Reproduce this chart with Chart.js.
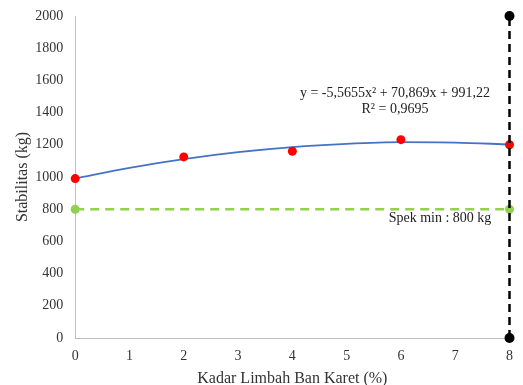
<!DOCTYPE html>
<html>
<head>
<meta charset="utf-8">
<script src="https://cdn.jsdelivr.net/npm/chart.js@4"></script>
<style>
  html, body { margin: 0; padding: 0; background: #fff; }
  #wrap { width: 523px; height: 385px; }
</style>
</head>
<body>
<div id="wrap"><canvas id="canvas"></canvas></div>
<script>
// data
var kadar = [0, 2, 4, 6, 8];
var stabilitas = [990, 1125, 1160, 1232, 1200];
// trend curve as drawn (read at each integer x)
var trendX = [0, 1, 2, 3, 4, 5, 6, 7, 8];
var trendY = [991, 1057, 1111, 1154, 1186, 1206, 1216, 1214, 1202];
var spekX = [0, 8];
var spekY = [800, 800];
var batasX = [8, 8];
var batasY = [0, 2000];
var yTicks = [0, 200, 400, 600, 800, 1000, 1200, 1400, 1600, 1800, 2000];

function pts(xs, ys) {
    return xs.map(function (x, i) { return { x: x, y: ys[i] }; });
}

// text labels on the chart
var labelPlugin = {
    id: 'labels',
    afterDatasetsDraw: function (chart) {
        var ctx = chart.ctx;
        var xs = chart.scales.x, ys = chart.scales.y;
        ctx.save();
        ctx.fillStyle = '#222';
        ctx.font = '14px "Liberation Serif"';
        ctx.textAlign = 'center';
        ctx.textBaseline = 'middle';
        var cx = xs.getPixelForValue(5.89);
        ctx.fillText('y = -5,5655x\u00b2 + 70,869x + 991,22', cx, ys.getPixelForValue(1520));
        ctx.fillText('R\u00b2 = 0,9695', cx, ys.getPixelForValue(1420));
        ctx.fillText('Spek min : 800 kg', xs.getPixelForValue(6.72), ys.getPixelForValue(741));
        ctx.restore();
    }
};

var tickFont = { family: '"Liberation Serif"', size: 14 };
var titleFont = { family: '"Liberation Serif"', size: 16 };

var ctx = document.getElementById('canvas');
var myChart = new Chart(ctx, {
    type: 'scatter',
    data: {
        datasets: [{
            label: 'Batas',
            data: pts(batasX, batasY),
            showLine: true,
            borderColor: '#000',
            borderWidth: 2.5,
            borderDash: [8, 5],
            pointRadius: 5,
            pointBackgroundColor: '#000',
            pointBorderWidth: 0,
            clip: false
        }, {
            label: 'Stabilitas',
            data: pts(kadar, stabilitas),
            showLine: false,
            pointRadius: 4.5,
            pointBackgroundColor: '#ff0000',
            pointBorderWidth: 0,
            clip: false
        }, {
            label: 'Trend',
            data: pts(trendX, trendY),
            showLine: true,
            cubicInterpolationMode: 'monotone',
            borderColor: '#4472c4',
            borderWidth: 1.8,
            pointRadius: 0,
            clip: false
        }, {
            label: 'Spek min',
            data: pts(spekX, spekY),
            showLine: true,
            borderColor: '#92d050',
            borderWidth: 2.5,
            borderDash: [9, 6],
            pointRadius: 4.5,
            pointBackgroundColor: '#92d050',
            pointBorderWidth: 0,
            clip: false
        }]
    },
    options: {
        responsive: true,
        maintainAspectRatio: false,
        animation: false,
        layout: { padding: { top: 0, right: 8, left: 7, bottom: -3 } },
        plugins: {
            legend: { display: false },
            tooltip: { enabled: false }
        },
        scales: {
            x: {
                type: 'linear',
                min: 0,
                max: 8,
                grid: { display: false, drawTicks: false },
                border: { color: '#bfbfbf', width: 1 },
                ticks: {
                    stepSize: 1,
                    padding: 10,
                    color: '#333',
                    font: tickFont,
                    callback: function (v) { return String(v); }
                },
                title: {
                    display: true,
                    text: 'Kadar Limbah Ban Karet (%)',
                    color: '#333',
                    padding: { top: -6, bottom: 0 },
                    font: titleFont
                }
            },
            y: {
                type: 'linear',
                min: 0,
                max: 2000,
                afterBuildTicks: function (axis) {
                    axis.ticks = yTicks.map(function (v) { return { value: v }; });
                },
                afterFit: function (axis) {
                    axis.paddingTop = 16;
                },
                grid: { display: false, drawTicks: false },
                border: { color: '#bfbfbf', width: 1 },
                ticks: {
                    padding: 12,
                    color: '#333',
                    font: tickFont,
                    callback: function (v) { return String(v); }
                },
                title: {
                    display: true,
                    text: 'Stabilitas (kg)',
                    color: '#333',
                    padding: { top: 6, bottom: -9 },
                    font: titleFont
                }
            }
        }
    },
    plugins: [labelPlugin]
});
</script>
</body>
</html>
